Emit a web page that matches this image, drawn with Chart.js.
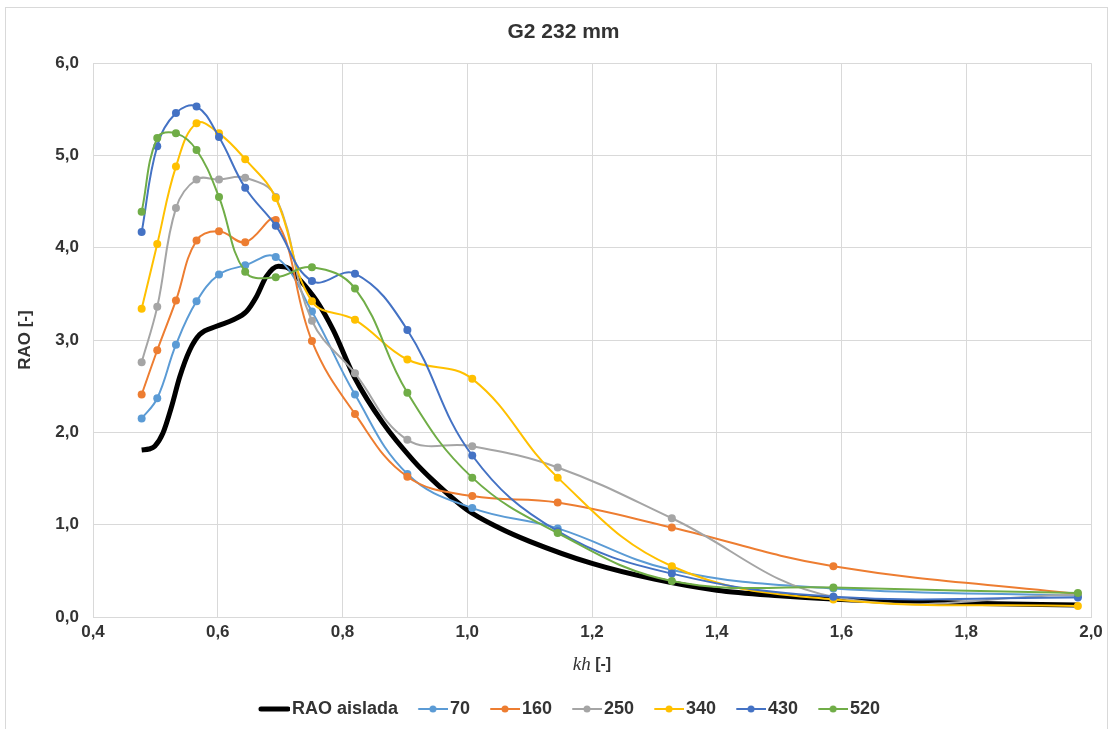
<!DOCTYPE html>
<html>
<head>
<meta charset="utf-8">
<script src="https://cdn.jsdelivr.net/npm/chart.js@4.4.0/dist/chart.umd.min.js"></script>
<style>
  body { margin: 0; background: #fff; }
  #wrap { width: 1113px; height: 729px; }
</style>
</head>
<body>
<div id="wrap"><canvas id="rao" width="1113" height="729"></canvas></div>
<script>
// kh de cada ensayo (comun a todas las series con puntos)
var kh = [0.478, 0.503, 0.533, 0.566, 0.602, 0.644, 0.693, 0.751, 0.820, 0.904, 1.008, 1.145, 1.328, 1.587, 1.979]

// curva RAO aislada (sin marcadores)
var khAislada  = [0.478, 0.490, 0.499, 0.512, 0.526, 0.539, 0.555, 0.571, 0.598, 0.625, 0.646, 0.662, 0.678, 0.697, 0.713, 0.732, 0.758, 0.785, 0.819, 0.865, 0.913, 0.945, 1.000, 1.050, 1.100, 1.200, 1.300, 1.400, 1.500, 1.600, 1.800, 1.979]
var raoAislada = [1.81, 1.82, 1.85, 1.99, 2.28, 2.60, 2.89, 3.06, 3.15, 3.22, 3.31, 3.47, 3.69, 3.80, 3.78, 3.65, 3.43, 3.11, 2.60, 2.10, 1.70, 1.48, 1.16, 0.97, 0.82, 0.58, 0.41, 0.29, 0.23, 0.19, 0.15, 0.13]

var rao70  = [2.15, 2.37, 2.95, 3.42, 3.71, 3.81, 3.90, 3.31, 2.41, 1.55, 1.18, 0.96, 0.51, 0.31, 0.23]
var rao160 = [2.41, 2.89, 3.43, 4.08, 4.18, 4.06, 4.30, 2.99, 2.20, 1.52, 1.31, 1.24, 0.97, 0.55, 0.25]
var rao250 = [2.76, 3.36, 4.43, 4.74, 4.74, 4.76, 4.55, 3.21, 2.64, 1.92, 1.85, 1.62, 1.07, 0.22, 0.24]
var rao340 = [3.34, 4.04, 4.88, 5.35, 5.24, 4.96, 4.54, 3.42, 3.22, 2.79, 2.58, 1.51, 0.55, 0.19, 0.12]
var rao430 = [4.17, 5.10, 5.46, 5.53, 5.20, 4.65, 4.24, 3.64, 3.72, 3.11, 1.75, 0.93, 0.47, 0.22, 0.21]
var rao520 = [4.39, 5.19, 5.24, 5.06, 4.55, 3.74, 3.68, 3.79, 3.56, 2.43, 1.51, 0.91, 0.39, 0.32, 0.26]

var seriesNames = ['70', '160', '250', '340', '430', '520']
var seriesData = [rao70, rao160, rao250, rao340, rao430, rao520]
var seriesColors = ['#5B9BD5', '#ED7D31', '#A5A5A5', '#FFC000', '#4472C4', '#70AD47']

var FONT = '"Liberation Sans", Arial, sans-serif'

function pts(xs, ys) {
    return xs.map(function(x, i){ return {x: x, y: ys[i]} })
}

// marca de leyenda tipo excel: linea con punto
function legendMark(color, width, dot) {
    var c = document.createElement('canvas')
    c.width = 46
    c.height = 12
    var g = c.getContext('2d')
    g.strokeStyle = color
    g.lineWidth = width
    g.lineCap = 'round'
    g.beginPath()
    g.moveTo(17, 6)
    g.lineTo(dot ? 46 : 44, 6)
    g.stroke()
    if (dot) {
        g.fillStyle = color
        g.beginPath()
        g.arc(31, 6, 3.5, 0, Math.PI * 2)
        g.fill()
    }
    return c
}

var datasets = [{
    label: 'RAO aislada',
    data: pts(khAislada, raoAislada),
    borderColor: '#000',
    backgroundColor: '#000',
    borderWidth: 5,
    pointRadius: 0,
    cubicInterpolationMode: 'monotone',
    order: 6,
    mark: legendMark('#000', 5, false)
}]
seriesNames.forEach(function(name, i){
    datasets.push({
        label: name,
        data: pts(kh, seriesData[i]),
        borderColor: seriesColors[i],
        backgroundColor: seriesColors[i],
        borderWidth: 2,
        pointRadius: 4,
        pointBorderWidth: 0,
        pointBackgroundColor: seriesColors[i],
        tension: 0.4,
        order: 5 - i,
        mark: legendMark(seriesColors[i], 2, true)
    })
})

function comma(v) {
    return Number(v).toFixed(1).replace('.', ',')
}

var extras = {
    id: 'extras',
    beforeDraw: function(chart) {
        var ctx = chart.ctx
        ctx.save()
        ctx.fillStyle = '#fff'
        ctx.fillRect(0, 0, chart.width, chart.height)
        ctx.strokeStyle = '#D9D9D9'
        ctx.lineWidth = 1
        ctx.strokeRect(5.5, 7.5, 1102, 740)
        ctx.restore()
    },
    afterLayout: function(chart) {
        chart.legend.left += 20
        chart.legend.right += 20
        chart.titleBlock.left += 18
        chart.titleBlock.right += 18
    },
    afterDraw: function(chart) {
        var ctx = chart.ctx
        var cx = (chart.chartArea.left + chart.chartArea.right) / 2
        var y = 665
        ctx.save()
        ctx.textBaseline = 'middle'
        ctx.fillStyle = '#333'
        ctx.font = 'italic 19px "Liberation Serif", serif'
        var w1 = ctx.measureText('kh').width
        ctx.font = 'bold 16px ' + FONT
        var w2 = ctx.measureText(' [-]').width
        var x0 = cx - (w1 + w2) / 2
        ctx.font = 'italic 19px "Liberation Serif", serif'
        ctx.fillText('kh', x0, y)
        ctx.font = 'bold 16px ' + FONT
        ctx.fillText(' [-]', x0 + w1, y)
        ctx.restore()
    }
}

var ctx = document.getElementById('rao')
var chart = new Chart(ctx, {
    type: 'line',
    data: { datasets: datasets },
    plugins: [extras],
    options: {
        responsive: false,
        animation: false,
        devicePixelRatio: 1,
        layout: { padding: { left: 0, right: 22, top: 0, bottom: 1 } },
        plugins: {
            tooltip: { enabled: false },
            title: {
                display: true,
                text: 'G2 232 mm',
                color: '#333',
                font: { family: FONT, size: 21, weight: 'bold' },
                padding: { top: 20, bottom: 18 }
            },
            legend: {
                position: 'bottom',
                labels: {
                    usePointStyle: true,
                    pointStyleWidth: 32,
                    padding: 11,
                    color: '#333',
                    font: { family: FONT, size: 18, weight: 'bold' },
                    generateLabels: function(chart) {
                        var items = Chart.defaults.plugins.legend.labels.generateLabels(chart)
                        items.sort(function(a, b){ return a.datasetIndex - b.datasetIndex })
                        items.forEach(function(it){
                            it.pointStyle = chart.data.datasets[it.datasetIndex].mark
                        })
                        return items
                    }
                }
            }
        },
        scales: {
            x: {
                type: 'linear',
                min: 0.4,
                max: 2.0,
                grid: { color: '#D9D9D9', drawTicks: false },
                border: { color: '#D9D9D9' },
                ticks: {
                    stepSize: 0.2,
                    padding: 5,
                    color: '#333',
                    font: { family: FONT, size: 17, weight: 'bold' },
                    callback: function(v){ return comma(v) }
                },
                afterFit: function(scale){ scale.height = 72 }
            },
            y: {
                min: 0,
                max: 6,
                grid: { color: '#D9D9D9', drawTicks: false },
                border: { color: '#D9D9D9' },
                ticks: {
                    stepSize: 1,
                    padding: 14,
                    color: '#333',
                    font: { family: FONT, size: 17, weight: 'bold' },
                    callback: function(v){ return comma(v) }
                },
                title: {
                    display: true,
                    text: 'RAO [-]',
                    color: '#333',
                    font: { family: FONT, size: 17, weight: 'bold' },
                    padding: { top: 15, bottom: 0 }
                },
                afterFit: function(scale){ scale.width = 93 }
            }
        }
    }
})
</script>
</body>
</html>
